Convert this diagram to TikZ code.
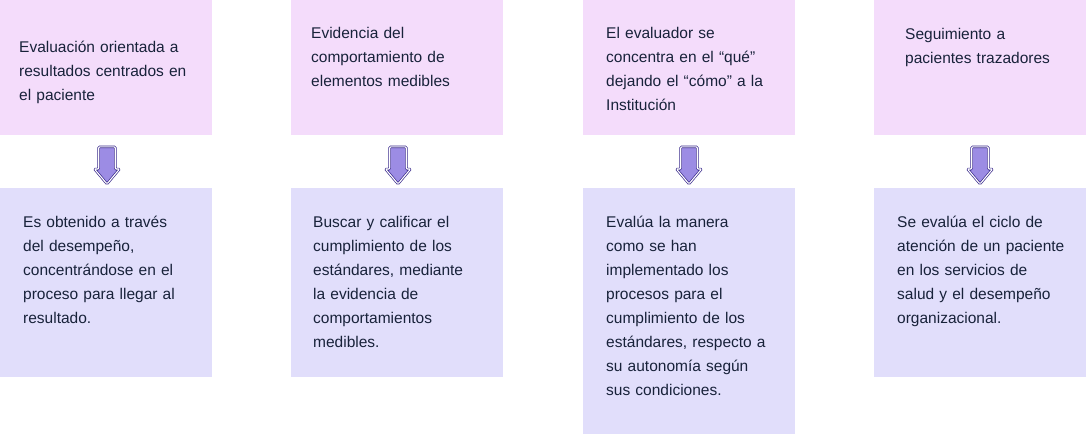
\documentclass[tikz,border=0pt]{standalone}
\usepackage{fontspec}
\setmainfont{Liberation Sans}
\usetikzlibrary{shapes.arrows}
\definecolor{topfill}{HTML}{F4DCFB}
\definecolor{bottomfill}{HTML}{E1DEFB}
\definecolor{textcol}{HTML}{18223A}
\definecolor{arrowfill}{HTML}{9C8CE4}
\definecolor{arrowline}{HTML}{3B2B8C}
\tikzset{>=latex}
\tikzstyle{topbox}=[rectangle,fill=topfill,minimum width=212pt,minimum height=135pt,anchor=north west,inner sep=0pt]
\tikzstyle{bottombox}=[rectangle,fill=bottomfill,minimum width=212pt,anchor=north west,inner sep=0pt]
\tikzstyle{boxtext}=[anchor=base west,inner sep=0pt,text width=200pt,align=left,text=textcol,font=\fontsize{15.5}{24}\selectfont]
\tikzstyle{downarrow}=[single arrow,shape border rotate=270,draw=arrowline,line width=0.7pt,double=white,double distance=1.1pt,fill=arrowfill,rounded corners=1pt,minimum height=37pt,minimum width=25pt,single arrow head extend=4pt,single arrow tip angle=80,inner sep=7.5pt]

\begin{document}
\begin{tikzpicture}[x=1pt,y=-1pt]
	\useasboundingbox (0,0) rectangle (1086,434);
	
	\node[topbox] (top1) at (0,0) {};
	\node[topbox] (top2) at (291,0) {};
	\node[topbox] (top3) at (583,0) {};
	\node[topbox] (top4) at (874,0) {};
	
	\node[bottombox,minimum height=189pt] (bottom1) at (0,188) {};
	\node[bottombox,minimum height=189pt] (bottom2) at (291,188) {};
	\node[bottombox,minimum height=246pt] (bottom3) at (583,188) {};
	\node[bottombox,minimum height=189pt] (bottom4) at (874,188) {};
	
	\node[downarrow] (arrow1) at (107,160.5) {};
	\node[downarrow] (arrow2) at (398,160.5) {};
	\node[downarrow] (arrow3) at (689,160.5) {};
	\node[downarrow] (arrow4) at (980,160.5) {};
	
	\node[boxtext] (text1) at (19,52) {Evaluación orientada a\\resultados centrados en\\el paciente};
	\node[boxtext] (text2) at (311,38) {Evidencia del\\comportamiento de\\elementos medibles};
	\node[boxtext] (text3) at (606,38) {El evaluador se\\concentra en el “qué”\\dejando el “cómo” a la\\Institución};
	\node[boxtext] (text4) at (905,39) {Seguimiento a\\pacientes trazadores};
	
	\node[boxtext] (text5) at (23,227) {Es obtenido a través\\del desempeño,\\concentrándose en el\\proceso para llegar al\\resultado.};
	\node[boxtext] (text6) at (313,227) {Buscar y calificar el\\cumplimiento de los\\estándares, mediante\\la evidencia de\\comportamientos\\medibles.};
	\node[boxtext] (text7) at (606,227) {Evalúa la manera\\como se han\\implementado los\\procesos para el\\cumplimiento de los\\estándares, respecto a\\su autonomía según\\sus condiciones.};
	\node[boxtext] (text8) at (897,227) {Se evalúa el ciclo de\\atención de un paciente\\en los servicios de\\salud y el desempeño\\organizacional.};
\end{tikzpicture}
\end{document}
